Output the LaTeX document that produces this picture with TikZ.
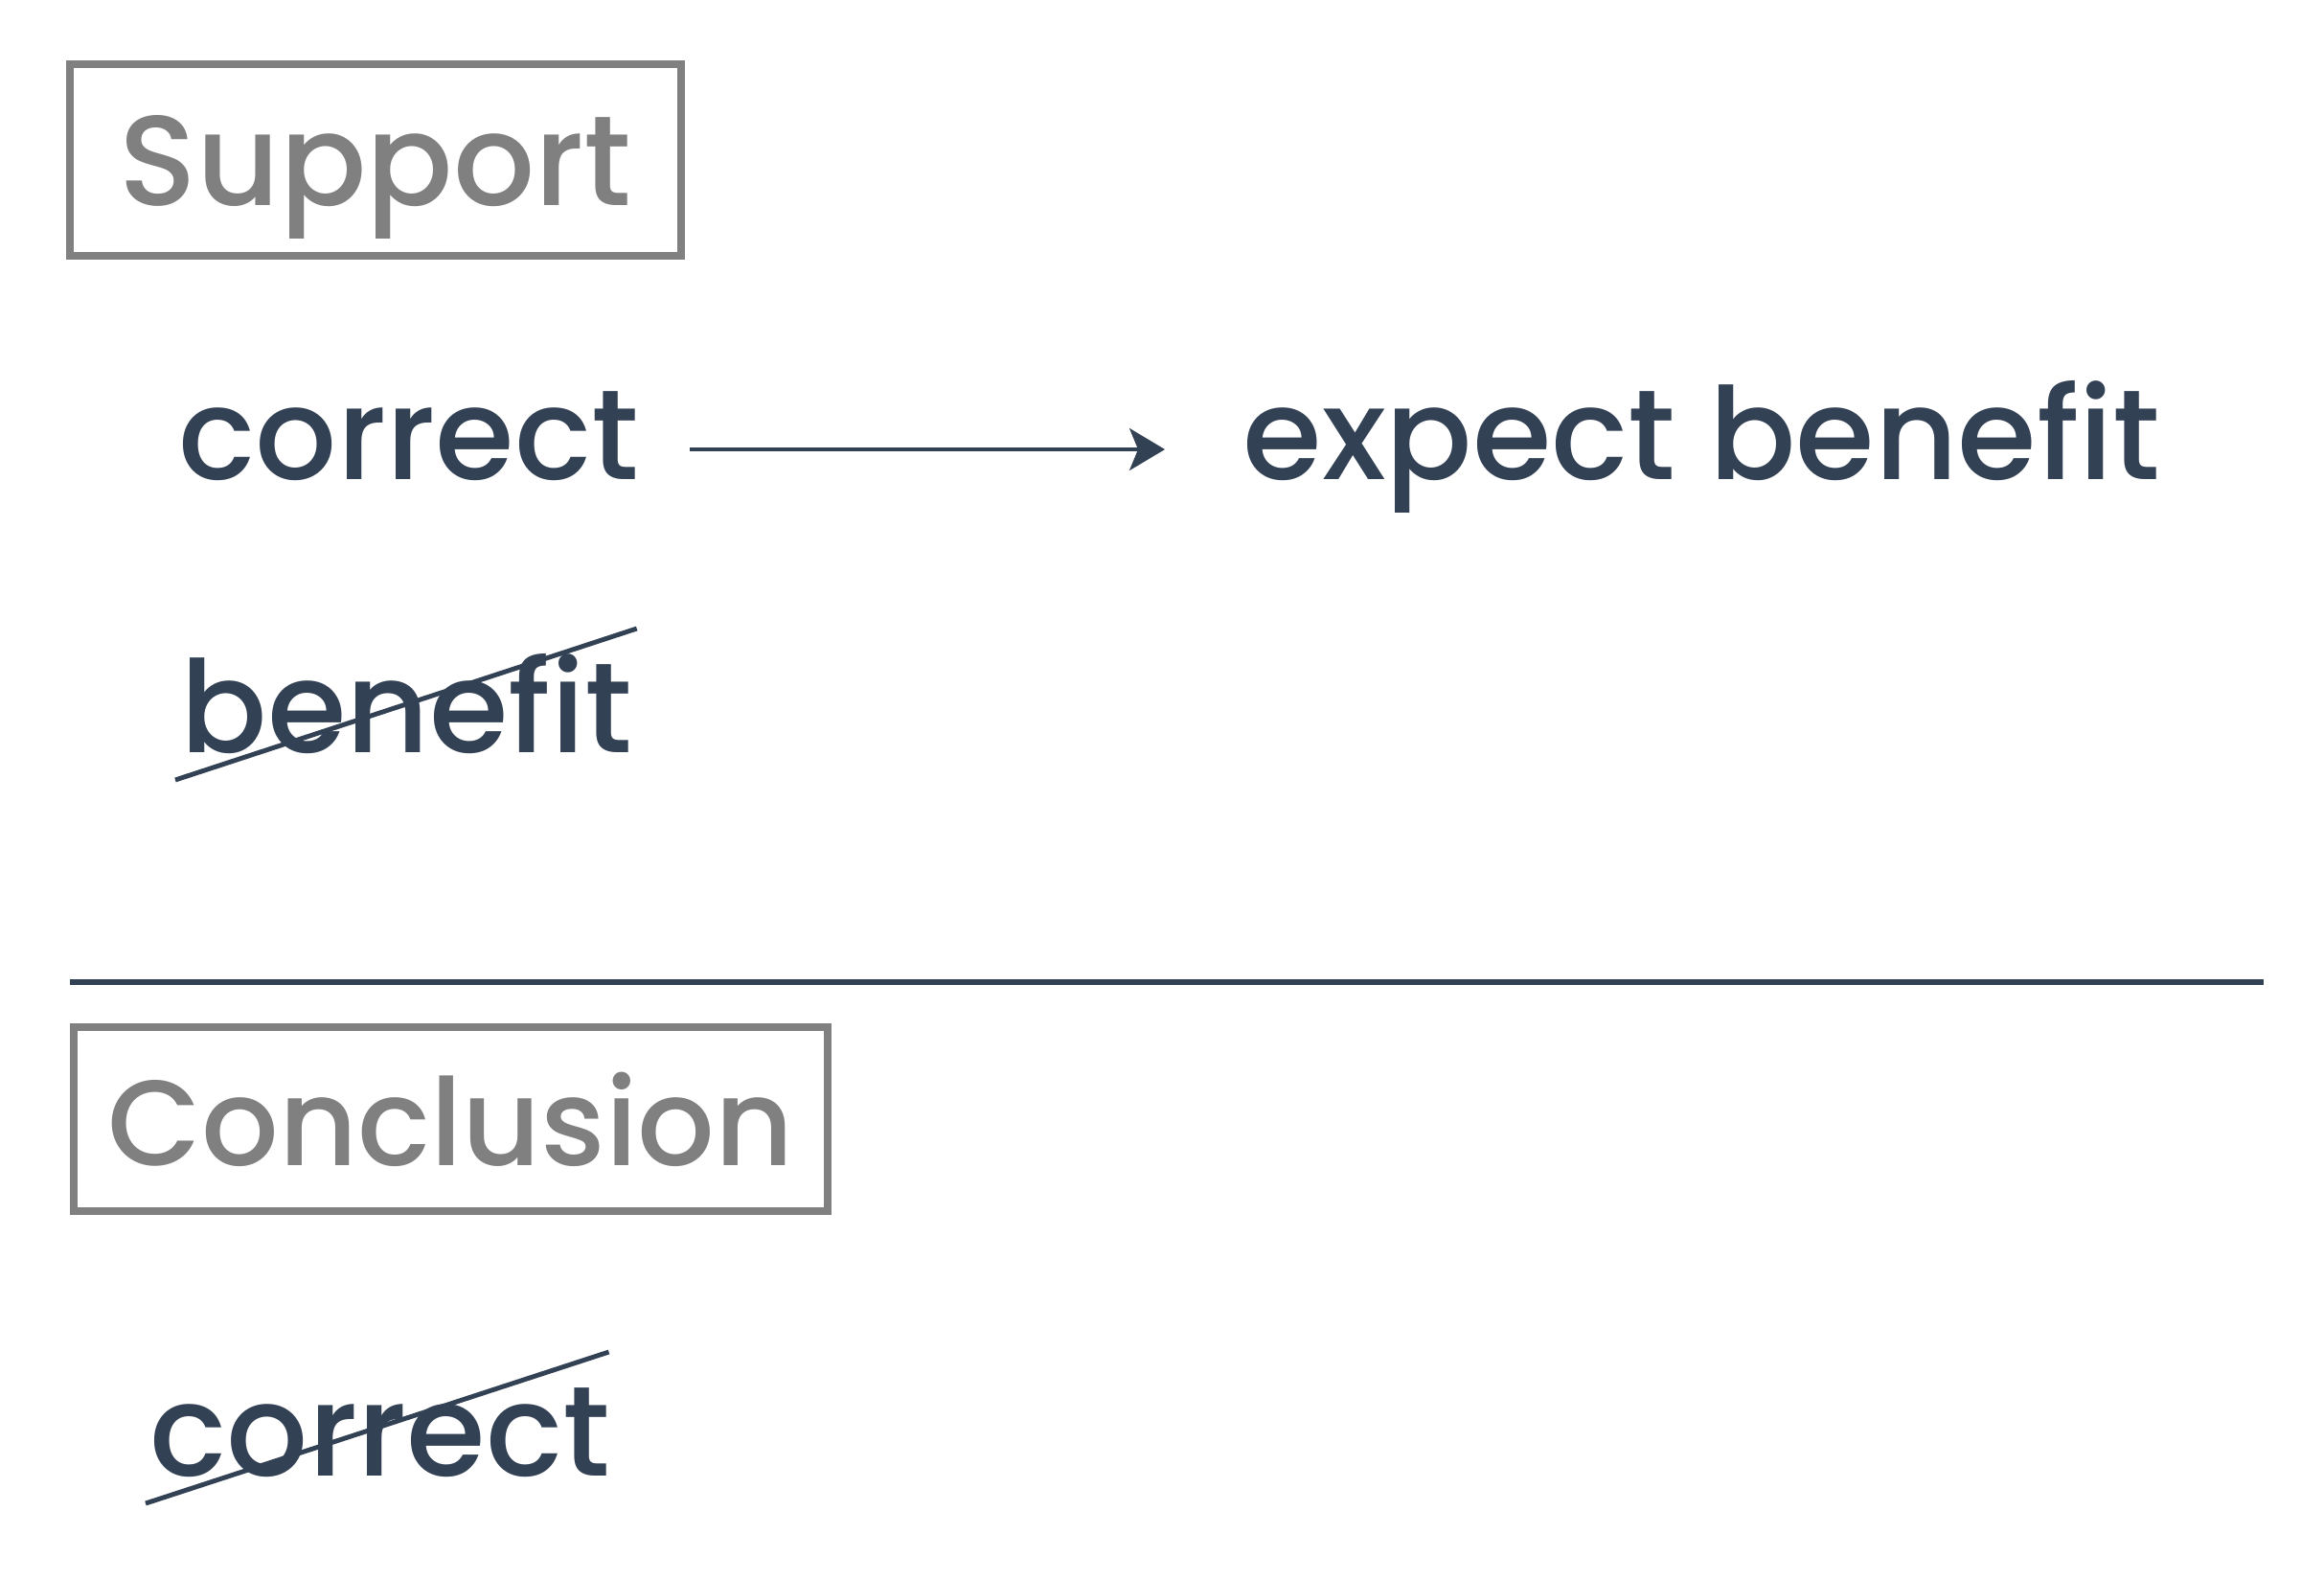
\documentclass[tikz,border=0pt]{standalone}
\usepackage{fontspec}
\setmainfont{Poppins}[UprightFont={* Medium}]
\usetikzlibrary{arrows.meta}
\definecolor{ink}{HTML}{334155}
\definecolor{boxgray}{HTML}{808080}
\tikzset{
  word/.style={anchor=base west, inner sep=0pt, text=ink, font=\fontsize{38}{40}\selectfont},
  label box/.style={draw=boxgray, line width=2.3pt, text=boxgray, text depth=0pt,
    font=\fontsize{38}{40}\selectfont},
  strike/.style={draw=ink, line width=1.4pt},
}
\begin{document}
\begin{tikzpicture}
  \useasboundingbox (0,0) rectangle (24.26,-16.48);
  % support part
  \node[label box, minimum width=6.38cm, minimum height=2.0cm] at (3.92,-1.67) (support) {Support};
  \node[word] at (1.86,-5.00) (correct) {correct};
  \node[word] at (12.97,-5.00) (expect) {expect benefit};
  \draw[ink, line width=0.9pt, -{Stealth[length=0.37cm, width=0.44cm, inset=0.09cm]}]
    ([shift={(0.52,0.31)}]correct.base east) -- ([shift={(-0.81,0.31)}]expect.base west);
  \node[word] at (1.88,-7.85) (benefit) {benefit};
  \draw[strike] ([shift={(-0.05,-0.29)}]benefit.base west) -- ([shift={(0.04,1.29)}]benefit.base east);
  % divider
  \draw[ink, line width=1.7pt] (0.73,-10.25) -- (23.63,-10.25);
  % conclusion part
  \node[label box, minimum width=7.87cm, minimum height=1.92cm, font=\fontsize{36}{40}\selectfont]
    at (4.705,-11.68) (conclusion) {Conclusion};
  \node[word] at (1.56,-15.40) (correct2) {correct};
  \draw[strike] ([shift={(-0.04,-0.29)}]correct2.base west) -- ([shift={(-0.02,1.29)}]correct2.base east);
\end{tikzpicture}
\end{document}
